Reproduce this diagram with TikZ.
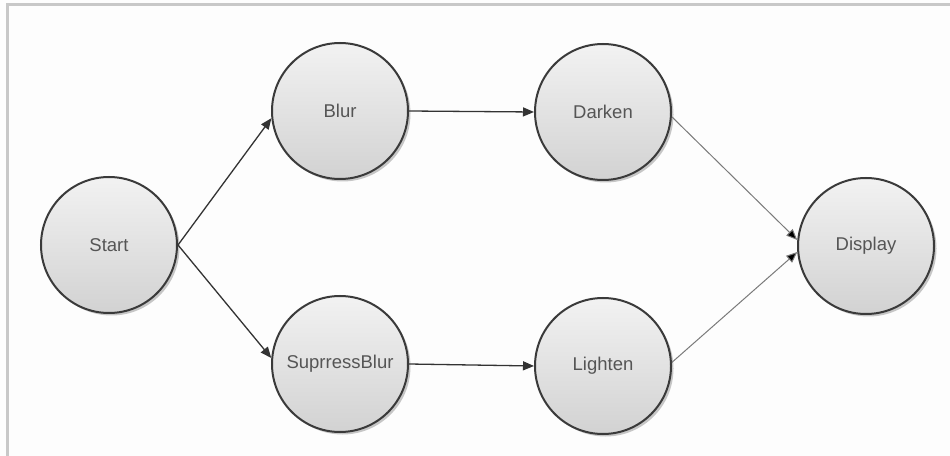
\documentclass[tikz,border=0pt]{standalone}
\usepackage{fontspec}
\setmainfont{Liberation Sans}
\usetikzlibrary{arrows.meta,shadows}
\definecolor{edgedark}{HTML}{333333}
\definecolor{edgelight}{HTML}{7A7A7A}
\definecolor{ringcol}{HTML}{3A3A3A}
\definecolor{txtcol}{HTML}{555555}
\definecolor{topfill}{HTML}{F2F2F2}
\definecolor{botfill}{HTML}{D2D2D2}
\definecolor{framecol}{HTML}{C8C8C8}
\definecolor{bgcol}{HTML}{FDFDFD}
\begin{document}
\begin{tikzpicture}[x=1bp,y=-1bp,
  state/.style={circle, minimum size=136bp, inner sep=0pt, draw=ringcol, line width=2bp,
    top color=topfill, bottom color=botfill,
    drop shadow={shadow xshift=2.5bp, shadow yshift=-2.5bp, fill=gray!55, opacity=0.8},
    text=txtcol, font=\fontsize{18.5bp}{22bp}\selectfont},
  flow/.style={draw=edgedark, line width=1.3bp, -{Triangle[length=11bp,width=9bp]}},
  flowlight/.style={draw=edgelight, line width=1bp, -{Triangle[length=11bp,width=9bp,fill=black]}}
]
\fill[bgcol] (0,0) rectangle (950,456);
\useasboundingbox (0,0) rectangle (950,456);
\draw[framecol, line width=3bp] (7.5,456) -- (7.5,4.5) -- (950,4.5);

\node[state] (start) at (109,245) {Start};
\node[state] (blur) at (340,111) {Blur};
\node[state] (supp) at (340,364) {SuprressBlur};
\node[state] (darken) at (603,112) {Darken};
\node[state] (lighten) at (603,366) {Lighten};
\node[state] (display) at (866,246) {Display};

\draw[flow] (start.east) -- (blur.186);
\draw[flow] (start.east) -- (supp.175);
\draw[flow] (blur.east) -- (darken.west);
\draw[flow] (supp.east) -- (lighten.west);
\draw[flowlight] (darken.-4) -- (display.175);
\draw[flowlight] (lighten.3) -- (display.185);
\end{tikzpicture}
\end{document}
